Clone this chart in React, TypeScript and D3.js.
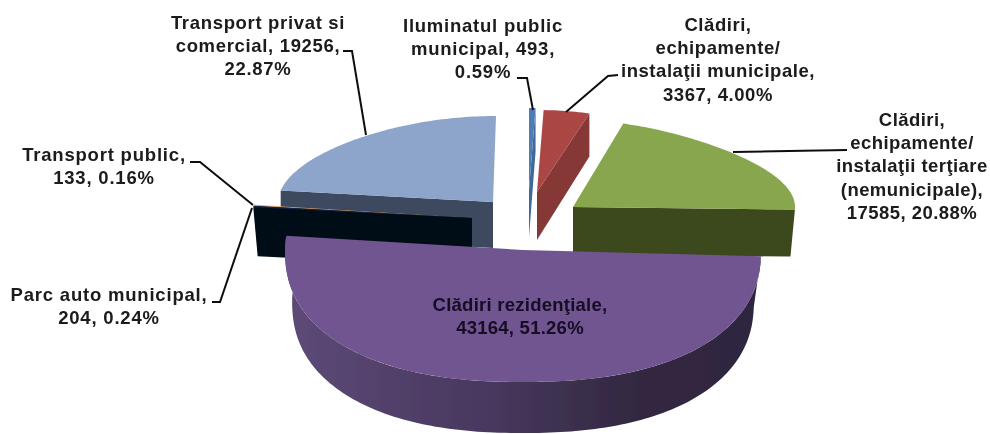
import React, { useEffect } from "react";
import * as d3 from "d3";

const categories = [
  "Iluminatul public municipal",
  "Clădiri, echipamente/ instalaţii municipale",
  "Clădiri, echipamente/ instalaţii terţiare (nemunicipale)",
  "Clădiri rezidenţiale",
  "Parc auto municipal",
  "Transport public",
  "Transport privat si comercial",
];
const values = [493, 3367, 17585, 43164, 204, 133, 19256];
const faceColors = ["#4d7db3", "#aa4745", "#88a64d", "#6f5490", "#14233f", "#e0a060", "#8da4cb"];
const wallColors = ["#41699a", "#853735", "#3b481f", "url(#purpleWall)", "#050d18", "#050d18", "#3e4a5e"];
const labelLines = [
  ["Iluminatul public", "municipal, 493,", "0.59%"],
  ["Clădiri,", "echipamente/", "instalaţii municipale,", "3367, 4.00%"],
  ["Clădiri,", "echipamente/", "instalaţii terţiare", "(nemunicipale),", "17585, 20.88%"],
  ["Clădiri rezidenţiale,", "43164, 51.26%"],
  ["Parc auto municipal,", "204, 0.24%"],
  ["Transport public,", "133, 0.16%"],
  ["Transport privat si", "comercial, 19256,", "22.87%"],
];
const labelSpacing = [0.77, 0.55, 0.45, 0.25, 0.8, 0.8, 0.67];

type Geo = { cx: number; cy: number; rx: number; ry: number; k: number; shear: number; d0: number; d1: number; s: number; p: number; wall: "start" | "end" | "arc" };
// Projection of each exploded slice of the 3-D pie
const geometry: Geo[] = [
  { cx: 529, cy: 190, rx: 222, ry: 82, k: 0.2, shear: 0, d0: 47, d1: 44, s: 1, p: 1, wall: "end" },
  { cx: 537, cy: 192, rx: 226, ry: 82, k: 0.2, shear: 0, d0: 48, d1: 43, s: 1, p: 1, wall: "end" },
  { cx: 573, cy: 207, rx: 222, ry: 87, k: 0.22, shear: 0, d0: 48, d1: 47, s: 0.98, p: 1, wall: "end" },
  { cx: 523, cy: 250, rx: 238, ry: 132, k: 0, shear: 0, d0: 51, d1: 51, s: 0.97, p: 0.87, wall: "arc" },
  { cx: 472, cy: 218, rx: 220, ry: 100, k: 0, shear: 0, d0: 49, d1: 49, s: 0.98, p: 1, wall: "start" },
  { cx: 472, cy: 218, rx: 220, ry: 100, k: 0, shear: 0, d0: 49, d1: 49, s: 0.98, p: 1, wall: "start" },
  { cx: 493, cy: 202, rx: 215, ry: 86, k: 0.1, shear: 0.035, d0: 46, d1: 46, s: 1, p: 1, wall: "start" },
];
const drawOrder = [6, 5, 4, 0, 1, 2, 3];

const labelAnchors: [number, number][] = [[483, 32], [718, 31], [912, 126], [520, 311], [109, 301], [104, 161], [258, 29]];
const leaderPaths: [number, number][][] = [
  [[517, 78], [527, 78], [533, 110]],
  [[618, 75], [608, 76], [566, 112]],
  [[847, 150], [733, 152]],
  [],
  [[212, 302], [220, 302], [252, 208]],
  [[190, 162], [200, 162], [253, 205]],
  [[343, 51], [352, 51], [366, 135]],
];

const line = d3.line<[number, number]>();

function project(g: Geo, a: number): [number, number] {
  const sin = Math.sin(a);
  const cos = Math.cos(a);
  const f = 1 - g.k * Math.max(0, cos) ** 2;
  const below = cos < 0;
  const sx = below ? Math.sign(sin) * Math.abs(sin) ** g.p : sin;
  const y = below ? g.ry * Math.abs(cos) ** g.p : -g.ry * cos;
  return [g.cx + g.rx * sx * f - g.shear * y, g.cy + y];
}
function drop(g: Geo, p: [number, number], t: number): [number, number] {
  return [g.cx + (p[0] - g.cx) * (1 - (1 - g.s) * t), p[1] + g.d0 + (g.d1 - g.d0) * t];
}
function arcPts(g: Geo, a0: number, a1: number) {
  const n = Math.max(2, Math.ceil(Math.abs(a1 - a0) / 0.02));
  return d3.range(n + 1).map((i) => project(g, a0 + ((a1 - a0) * i) / n));
}

const pie = d3.pie<number>().sort(null).value((d) => d);
const arcs = pie(values);

export default function App() {
  useEffect(() => {
    document.body.style.margin = "0";
  }, []);
  return (
    <svg width={990} height={434} style={{ display: "block", background: "#fff" }}>
      <defs>
        <linearGradient id="purpleWall" x1="0" x2="1" y1="0" y2="0">
          <stop offset="0" stopColor="#5d4a78" />
          <stop offset="0.45" stopColor="#46375c" />
          <stop offset="0.75" stopColor="#32283f" />
          <stop offset="1" stopColor="#2e2540" />
        </linearGradient>
        <filter id="soft" x="0" y="0" width="100%" height="100%" filterUnits="userSpaceOnUse">
          <feGaussianBlur stdDeviation="0.45" />
        </filter>
      </defs>
      <g filter="url(#soft)">
        {drawOrder.map((i) => {
          const g = geometry[i];
          const { startAngle: a0, endAngle: a1 } = arcs[i];
          const apex: [number, number] = [g.cx, g.cy];
          let wall: [number, number][];
          if (g.wall === "arc") {
            const top = arcPts(g, a0, Math.min(a1, (3 * Math.PI) / 2 + 0.1));
            wall = [...top, ...top.map((p) => drop(g, p, 1)).reverse()];
          } else {
            const rim = project(g, g.wall === "end" ? a1 : a0);
            wall = [apex, rim, drop(g, rim, 1), drop(g, apex, 0)];
          }
          const face: [number, number][] = [apex, ...arcPts(g, a0, a1)];
          return (
            <g key={categories[i]}>
              <path d={line(wall) + "Z"} fill={wallColors[i]} />
              <path d={line(face) + "Z"} fill={faceColors[i]} />
            </g>
          );
        })}
        {leaderPaths.map((p, i) =>
          p.length ? <path key={i} d={line(p)!} fill="none" stroke="#111" strokeWidth={2} /> : null
        )}
        {labelLines.map((lines, i) => (
          <text
            key={i}
            textAnchor="middle"
            fontFamily="'Liberation Sans', Arial, sans-serif"
            fontWeight={700}
            fontSize={18.5}
            letterSpacing={labelSpacing[i]}
            fill={i === 3 ? "#150d24" : "#1a1a1a"}
          >
            {lines.map((t, j) => (
              <tspan key={j} x={labelAnchors[i][0]} y={labelAnchors[i][1] + j * 23.2}>
                {t}
              </tspan>
            ))}
          </text>
        ))}
      </g>
    </svg>
  );
}
